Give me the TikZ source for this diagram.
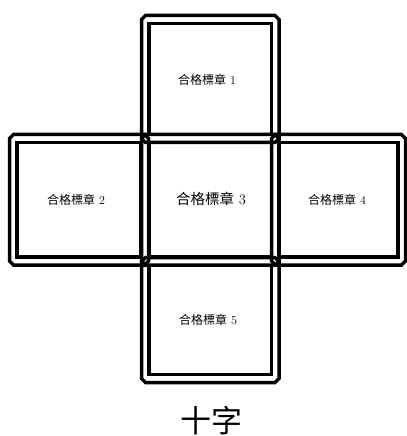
\documentclass[tikz,border=0pt]{standalone}
\usepackage{fontspec}
\newfontfamily\cjk{Noto Sans CJK TC}
\begin{document}
\begin{tikzpicture}[x=1bp,y=-1bp,
	frame/.style={line width=3.5bp},
	lab/.style={inner sep=0pt,font=\fontsize{12bp}{14bp}\selectfont}]
	\useasboundingbox (0,0) rectangle (406,436);
	% outer chamfered frame and inner frame of each square
	\foreach \a/\b/\c/\d in {141.5/15.5/279/142.5,9.5/134.5/148.5/265,141.5/134.5/279/265,271.5/134.5/405.5/265,141.5/257.5/279/382.5}
	{
		\draw[frame] (\a+4,\b)--(\c-4,\b)--(\c,\b+4)--(\c,\d-4)--(\c-4,\d)--(\a+4,\d)--(\a,\d-4)--(\a,\b+4)--cycle;
		\draw[frame] (\a+7.5,\b+8) rectangle (\c-7.5,\d-8);
	}
	\node[lab] (lab1) at (207,80) {{\cjk 合格標章} 1};
	\node[lab] (lab2) at (76,200) {{\cjk 合格標章} 2};
	\node[lab] (lab3) at (211,199) [font=\fontsize{14.5bp}{16bp}\selectfont] {{\cjk 合格標章} 3};
	\node[lab] (lab4) at (337,200) {{\cjk 合格標章} 4};
	\node[lab] (lab5) at (208,320) {{\cjk 合格標章} 5};
	\node[inner sep=0pt,font=\fontsize{31bp}{34bp}\selectfont\cjk] (title) at (211.5,421) {十字};
\end{tikzpicture}
\end{document}
